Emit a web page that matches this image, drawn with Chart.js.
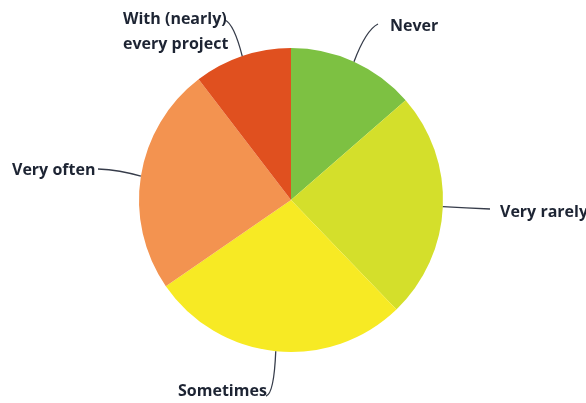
<!DOCTYPE html>
<html>
<head>
<meta charset="utf-8">
<script src="https://cdn.jsdelivr.net/npm/chart.js@4"></script>
<style>
  html, body { margin: 0; padding: 0; background: #fff; }
  #wrap { width: 586px; height: 403px; }
</style>
</head>
<body>
<div id="wrap"><canvas id="pie" width="586" height="403"></canvas></div>
<script>
// data (percent of answers)
const categories = ['Never', 'Very rarely', 'Sometimes', 'Very often', 'With (nearly) every project'];
const shares     = [13.6, 24.2, 27.6, 24.2, 10.4];
const colors     = ['#7dc142', '#d4df2b', '#f7ea24', '#f39350', '#e0501f'];

// label text lines and where they sit, plus the bend of each leader line
const labelLines = [['Never'], ['Very rarely'], ['Sometimes'], ['Very often'], ['With (nearly)', 'every project']];
const labelSpots = [
    { x: 390, y: 26, end: [378, 24], ctrl: [366, 30] },
    { x: 500, y: 212, end: [490, 209], ctrl: [466, 208] },
    { x: 178, y: 391, end: [266, 396], ctrl: [274, 394] },
    { x: 12, y: 170, end: [98, 169], ctrl: [120, 170] },
    { x: 123, y: 19, end: [225, 20], ctrl: [234, 24] }
];

const leaderLabels = {
    id: 'leaderLabels',
    afterDatasetsDraw(chart) {
        const c = chart.ctx;
        const arcs = chart.getDatasetMeta(0).data;
        c.save();
        arcs.forEach((arc, i) => {
            const mid = (arc.startAngle + arc.endAngle) / 2;
            const ax = arc.x + Math.cos(mid) * arc.outerRadius;
            const ay = arc.y + Math.sin(mid) * arc.outerRadius;
            const s = labelSpots[i];
            c.beginPath();
            c.moveTo(ax, ay);
            c.quadraticCurveTo(s.ctrl[0], s.ctrl[1], s.end[0], s.end[1]);
            c.strokeStyle = '#363c4a';
            c.lineWidth = 1.3;
            c.stroke();

            c.fillStyle = '#1d2433';
            c.font = 'bold 16px "Open Sans"';
            c.textAlign = 'left';
            c.textBaseline = 'middle';
            labelLines[i].forEach((t, k) => c.fillText(t, s.x, s.y + k * 25));
        });
        c.restore();
    }
};

new Chart(document.getElementById('pie'), {
    type: 'pie',
    data: {
        labels: categories,
        datasets: [{
            data: shares,
            backgroundColor: colors,
            borderWidth: 0
        }]
    },
    options: {
        responsive: false,
        animation: false,
        layout: { padding: { top: 48, bottom: 51, left: 139, right: 143 } },
        plugins: {
            legend: { display: false },
            tooltip: { enabled: false }
        }
    },
    plugins: [leaderLabels]
});
</script>
</body>
</html>
